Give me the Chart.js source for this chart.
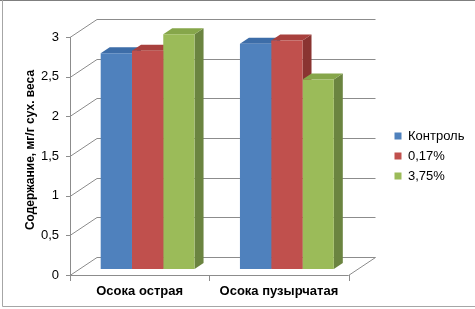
<!DOCTYPE html>
<html>
<head>
<meta charset="utf-8">
<script src="https://cdn.jsdelivr.net/npm/chart.js@4"></script>
<style>
	html, body { margin: 0; padding: 0; background: #fff; }
	#wrap { width: 475px; height: 309px; }
</style>
</head>
<body>
<div id="wrap"><canvas id="chart"></canvas></div>
<script>
const categories = ['Осока острая', 'Осока пузырчатая'];
const seriesNames = ['Контроль', '0,17%', '3,75%'];
const control = [2.72, 2.84];
const conc017 = [2.75, 2.88];
const conc375 = [2.96, 2.39];
const yTicks = [0, 0.5, 1, 1.5, 2, 2.5, 3];
const yTitle = 'Содержание, мг/г сух. веса';

const fronts = ['#4f81bd', '#c0504d', '#9bbb59'];
const tops = ['#3d6da8', '#a8403d', '#86a64a'];
const sides = ['#2f5786', '#8a3431', '#6b8440'];

// depth of the fake 3d: front plane, back wall, bar thickness
const FRONT = {dx: -8, dy: 6};
const BACK = {dx: 19, dy: -12};
const BAR = {dx: 9, dy: -6};

const threeD = {
	id: 'threeD',
	beforeDraw(chart) {
		const ctx = chart.ctx;
		ctx.save();
		ctx.strokeStyle = '#7f7f7f';
		ctx.lineWidth = 1;
		ctx.beginPath();
		ctx.moveTo(0, 0.5); ctx.lineTo(475, 0.5);
		ctx.stroke();
		ctx.strokeStyle = '#a6a6a6';
		ctx.beginPath();
		ctx.moveTo(2.5, 0); ctx.lineTo(2.5, 306.5); ctx.lineTo(475, 306.5);
		ctx.stroke();
		ctx.restore();
	},
	beforeDatasetsDraw(chart) {
		const ctx = chart.ctx;
		const y = chart.scales.y;
		const a = chart.chartArea;
		ctx.save();
		ctx.lineWidth = 1;
		ctx.strokeStyle = '#8c8c8c';
		// back wall gridlines and left wall diagonals
		yTicks.forEach(v => {
			const py = Math.round(y.getPixelForValue(v));
			ctx.beginPath();
			ctx.moveTo(a.left + BACK.dx, py + BACK.dy + 0.5);
			ctx.lineTo(a.right + BACK.dx, py + BACK.dy + 0.5);
			ctx.stroke();
			ctx.beginPath();
			ctx.moveTo(a.left + FRONT.dx, py + FRONT.dy + 0.5);
			ctx.lineTo(a.left + BACK.dx, py + BACK.dy + 0.5);
			ctx.stroke();
			// tick mark
			ctx.beginPath();
			ctx.moveTo(a.left + FRONT.dx - 4, py + FRONT.dy + 0.5);
			ctx.lineTo(a.left + FRONT.dx, py + FRONT.dy + 0.5);
			ctx.stroke();
		});
		const y0 = Math.round(y.getPixelForValue(0));
		const y3 = Math.round(y.getPixelForValue(3));
		// front vertical axis
		ctx.beginPath();
		ctx.moveTo(a.left + FRONT.dx + 0.5, y3 + FRONT.dy);
		ctx.lineTo(a.left + FRONT.dx + 0.5, y0 + FRONT.dy);
		ctx.stroke();
		// floor front edge and right edge
		ctx.beginPath();
		ctx.moveTo(a.left + FRONT.dx, y0 + FRONT.dy + 0.5);
		ctx.lineTo(a.right + FRONT.dx, y0 + FRONT.dy + 0.5);
		ctx.lineTo(a.right + BACK.dx, y0 + BACK.dy + 0.5);
		ctx.stroke();
		// category ticks
		const w = (a.right - a.left) / categories.length;
		for (let i = 0; i <= categories.length; i++) {
			const px = Math.round(a.left + FRONT.dx + i * w) + 0.5;
			ctx.beginPath();
			ctx.moveTo(px, y0 + FRONT.dy);
			ctx.lineTo(px, y0 + FRONT.dy + 6);
			ctx.stroke();
		}
		// bar tops and sides, drawn before the front faces
		categories.forEach((c, i) => {
			chart.data.datasets.forEach((ds, d) => {
				const bar = chart.getDatasetMeta(d).data[i];
				const p = bar.getProps(['x', 'y', 'base', 'width'], true);
				const l = p.x - p.width / 2, r = p.x + p.width / 2;
				ctx.fillStyle = sides[d];
				ctx.beginPath();
				ctx.moveTo(r, p.y);
				ctx.lineTo(r + BAR.dx, p.y + BAR.dy);
				ctx.lineTo(r + BAR.dx, p.base + BAR.dy);
				ctx.lineTo(r, p.base);
				ctx.closePath();
				ctx.fill();
				ctx.fillStyle = tops[d];
				ctx.beginPath();
				ctx.moveTo(l, p.y);
				ctx.lineTo(l + BAR.dx, p.y + BAR.dy);
				ctx.lineTo(r + BAR.dx, p.y + BAR.dy);
				ctx.lineTo(r, p.y);
				ctx.closePath();
				ctx.fill();
			});
		});
		ctx.restore();
	}
};

new Chart(document.getElementById('chart'), {
	type: 'bar',
	data: {
		labels: categories,
		datasets: [
			{label: seriesNames[0], data: control, backgroundColor: fronts[0]},
			{label: seriesNames[1], data: conc017, backgroundColor: fronts[1]},
			{label: seriesNames[2], data: conc375, backgroundColor: fronts[2]},
		]
	},
	options: {
		responsive: true,
		maintainAspectRatio: false,
		animation: false,
		layout: {padding: {top: 31, right: 10, bottom: 0, left: 0}},
		datasets: {bar: {barPercentage: 1, categoryPercentage: 0.674}},
		scales: {
			x: {
				grid: {display: false, drawTicks: false},
				border: {display: false},
				afterFit: s => { s.height = 40; },
				ticks: {
					padding: 15,
					labelOffset: -8,
					color: '#000',
					font: {family: 'Liberation Sans', size: 13, weight: 'bold'}
				}
			},
			y: {
				min: 0,
				max: 3,
				grid: {display: false, drawTicks: false},
				border: {display: false},
				afterFit: s => { s.width = 78; },
				afterBuildTicks: s => { s.ticks = yTicks.map(v => ({value: v})); },
				ticks: {
					padding: 19,
					labelOffset: 6,
					color: '#000',
					font: {family: 'Liberation Sans', size: 13},
					callback: v => String(v).replace('.', ',')
				},
				title: {
					display: true,
					text: yTitle,
					color: '#000',
					padding: {top: 23, bottom: 0},
					font: {family: 'Liberation Sans', size: 12, weight: 'bold'}
				}
			},
			y2: {
				position: 'right',
				display: true,
				grid: {display: false},
				border: {display: false},
				ticks: {display: false},
				afterFit: s => { s.width = 31; }
			}
		},
		plugins: {
			legend: {
				position: 'right',
				fullSize: false,
				// empty title only nudges the centred items down a little
				title: {
					display: true,
					text: ' ',
					padding: 1,
					font: {size: 10, lineHeight: 1}
				},
				labels: {
					boxWidth: 7,
					boxHeight: 7,
					padding: 7,
					color: '#000',
					font: {family: 'Liberation Sans', size: 13}
				}
			},
			tooltip: {enabled: false}
		}
	},
	plugins: [threeD]
});
</script>
</body>
</html>
